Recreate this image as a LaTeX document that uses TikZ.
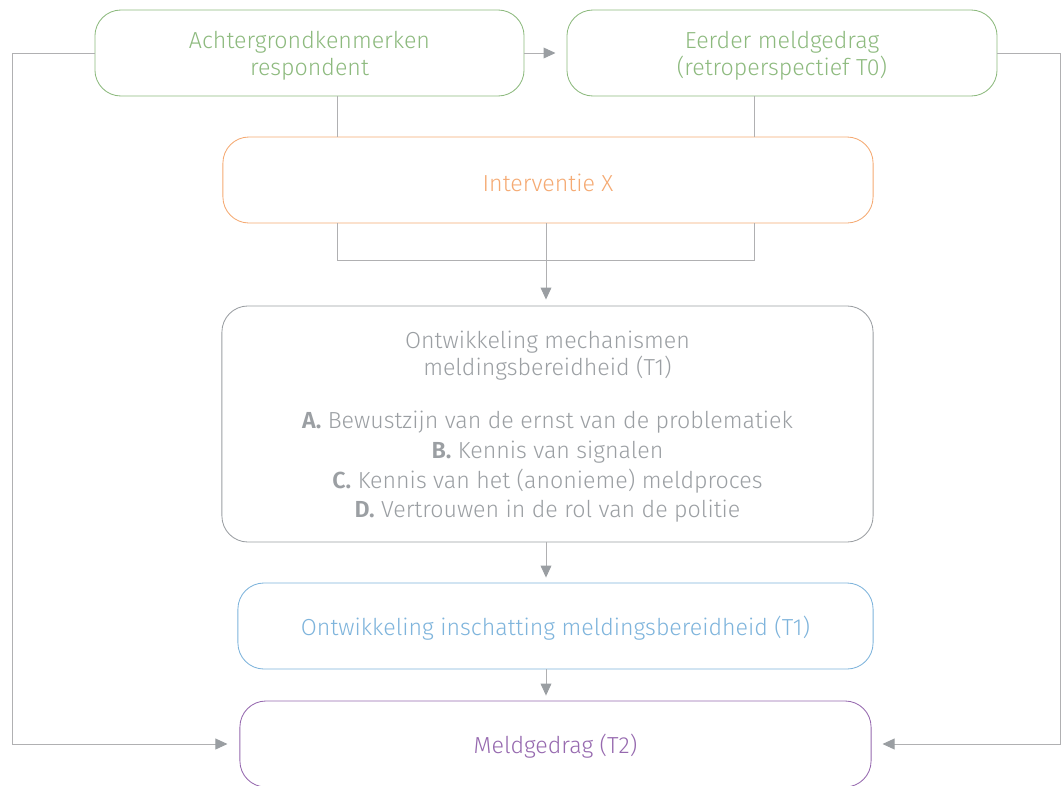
\documentclass[tikz,border=0pt]{standalone}
\usepackage{fontspec}
\setmainfont{Fira Sans}[UprightFont=* Light, BoldFont=* SemiBold]
\usetikzlibrary{arrows.meta}
\definecolor{bgreen}{RGB}{141,186,126}
\definecolor{borange}{RGB}{245,170,115}
\definecolor{bgray}{RGB}{155,159,163}
\definecolor{bblue}{RGB}{126,180,220}
\definecolor{bpurple}{RGB}{150,105,175}
\definecolor{linegray}{RGB}{176,176,178}
\definecolor{tipgray}{RGB}{154,158,162}
\newcommand{\tstrut}{\rule{0pt}{16.5pt}}

\begin{document}
\begin{tikzpicture}[x=0.025cm,y=-0.025cm,
    box/.style={draw, rounded corners=0.65cm, fill=white, align=center,
        minimum height=2.15cm, inner sep=0pt, line width=0.6pt,
        font=\fontsize{16.5}{19.1}\selectfont},
    link/.style={draw=linegray, line width=0.7pt},
    arr/.style={link, -{Triangle[length=0.3cm,width=0.27cm,color=tipgray]}}]
    \useasboundingbox (0,0) rectangle (1061,785);
    % % ----- boxes ----- % %
    \node[box, draw=bgreen, text=bgreen, minimum width=10.725cm] (achter) at (309.5,53) {\tstrut Achtergrondkenmerken\\respondent}; 	% background
    \node[box, draw=bgreen, text=bgreen, minimum width=10.75cm] (eerder) at (782,53) {\tstrut Eerder meldgedrag\\(retroperspectief T0)}; 	% T0
    \node[box, draw=borange, text=borange, minimum width=16.25cm] (interv) at (548,180) {\tstrut Interventie X}; 	% intervention
    \node[box, draw=bgray, text=bgray, minimum width=16.275cm, minimum height=5.9cm] (mech) at (547.5,424) {\tstrut Ontwikkeling mechanismen\\meldingsbereidheid (T1)\\[19pt]
        \textbf{A.} Bewustzijn van de ernst van de problematiek\\[2pt]
        \textbf{B.} Kennis van signalen\\[2pt]
        \textbf{C.} Kennis van het (anonieme) meldproces\\[2pt]
        \textbf{D.} Vertrouwen in de rol van de politie}; 	% mechanisms
    \node[box, draw=bblue, text=bblue, minimum width=15.875cm] (insch) at (555.5,626) {\tstrut Ontwikkeling inschatting meldingsbereidheid (T1)}; 	% estimate
    \node[box, draw=bpurple, text=bpurple, minimum width=15.775cm] (meld) at (555.5,744) {\tstrut Meldgedrag (T2)}; 	% T2
    % % ----- joins ----- % %
    \coordinate (jl) at (337,260);
    \coordinate (jr) at (754,260);
    \coordinate (jm) at (546,260);
    \coordinate (lb) at (12,744);
    \coordinate (rb) at (1060,744);
    % % ----- lines ----- % %
    \draw[arr, shorten >=0.275cm] (achter.east) -- (eerder.west); 		% background -> T0
    \draw[link] (achter.south -| jl) -- (interv.north -| jl); 		% background -> X
    \draw[link] (eerder.south -| jr) -- (interv.north -| jr); 		% T0 -> X
    \draw[link] (interv.south -| jl) -- (jl) -- (jr) -- (interv.south -| jr); 	% join
    \draw[arr, shorten >=0.15cm] (interv.south -| jm) -- (mech.north -| jm); 	% X -> mechanisms
    \draw[arr, shorten >=0.125cm] (mech.south -| jm) -- (insch.north -| jm); 	% mechanisms -> estimate
    \draw[arr, shorten >=0.125cm] (insch.south -| jm) -- (meld.north -| jm); 	% estimate -> T2
    \draw[arr, shorten >=0.3cm] (achter.west) -| (lb) -- (meld.west); 	% background -> T2
    \draw[arr, shorten >=0.275cm] (eerder.east) -| (rb) -- (meld.east); 	% T0 -> T2
\end{tikzpicture}
\end{document}
